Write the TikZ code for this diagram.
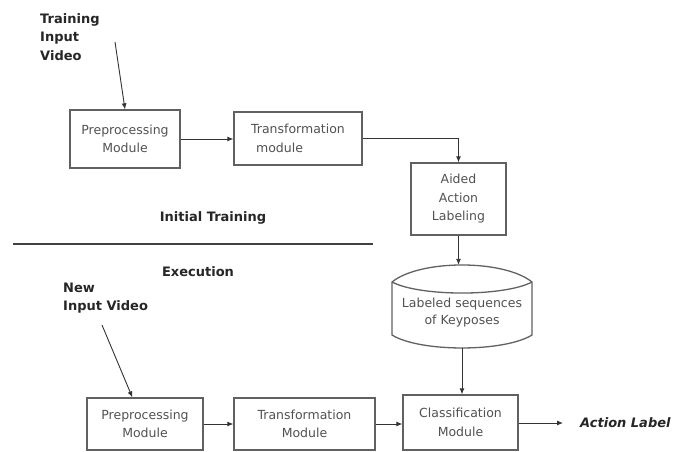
\documentclass[tikz,border=0pt]{standalone}
\usepackage{fontspec}
\setmainfont{DejaVu Sans}
\usetikzlibrary{arrows.meta,calc}
\begin{document}
\begin{tikzpicture}[x=1pt,y=-1pt,
 box/.style={draw=black!62,line width=1.3pt,text=black!68,align=center,inner sep=0pt,font=\fontsize{12.5}{18.5}\selectfont},
 lbl/.style={font=\bfseries\fontsize{13}{18.5}\selectfont,text=black!85,inner sep=0pt},
 arr/.style={draw=black!80,line width=0.9pt,-{Latex[length=6pt,width=5pt]}},
 sep/.style={draw=black!75,line width=1.1pt}]
\useasboundingbox[fill=white] (0,0) rectangle (674,451);

% training row
\node[lbl,align=left,anchor=west] (tiv) at (40,37) {Training\\Input\\Video};
\node[box,minimum width=110pt,minimum height=58pt] (prep1) at (125,139) {Preprocessing\\Module};
\node[box,minimum width=128pt,minimum height=53pt,align=left] (trans1) at (298,138.5) {Transformation\\\hspace{5pt}module};
\node[box,minimum width=95pt,minimum height=72pt] (aided) at (458.5,199) {Aided\\Action\\Labeling};

\coordinate (tivs) at (115,42);
\draw[arr] (tivs) -- (prep1.north);
\draw[arr] (prep1.east) -- (prep1.east -| trans1.west);
\draw[arr] (trans1.east) -| (aided.north);

\node[lbl] (init) at (213,218) {Initial Training};
\coordinate (sepL) at (13,244);
\coordinate (sepR) at (373,244);
\draw[sep] (sepL) -- (sepR);
\node[lbl] (exec) at (198,272) {Execution};

% storage (cylinder-like)
\node[inner sep=0pt,minimum width=140pt,minimum height=83pt] (cyl) at (462,306.5) {};
\node[inner sep=0pt,align=center,text=black!68,font=\fontsize{12.5}{17}\selectfont] (cyltext) at (462,313) {Labeled sequences\\of Keyposes};
\draw[draw=black!62,line width=1.3pt]
  (392,282) .. controls (420,259.3) and (504,259.3) .. (532,282)
  -- (532,335) .. controls (504,352.3) and (420,352.3) .. (392,335)
  -- cycle;
\draw[draw=black!62,line width=1.3pt]
  (392,282) .. controls (420,296.7) and (504,296.7) .. (532,282);

\draw[arr] (aided.south) -- (aided.south |- cyl.north);

% execution row
\node[lbl,align=left,anchor=west] (niv) at (63,298) {New\\Input Video};
\node[box,minimum width=116pt,minimum height=52pt] (prep2) at (145,424) {Preprocessing\\Module};
\node[box,minimum width=141pt,minimum height=52pt] (trans2) at (304.5,424) {Transformation\\Module};
\node[box,minimum width=115pt,minimum height=55pt] (class) at (460.5,422.5) {Classification\\Module};
\node[lbl,anchor=west,font=\bfseries\itshape\fontsize{13}{18.5}\selectfont] (act) at (580,423) {Action Label};

\coordinate (nivs) at (102,325);
\draw[arr] (nivs) -- ($(prep2.north west)+(46,0)$);
\draw[arr] (prep2.east) -- (trans2.west);
\draw[arr] (trans2.east) -- (trans2.east -| class.west);
\draw[arr] (cyl.south) -- (cyl.south |- class.north);
\draw[arr] (class.east |- act.west) -- ($(act.west)+(-17,0)$);
\end{tikzpicture}
\end{document}
